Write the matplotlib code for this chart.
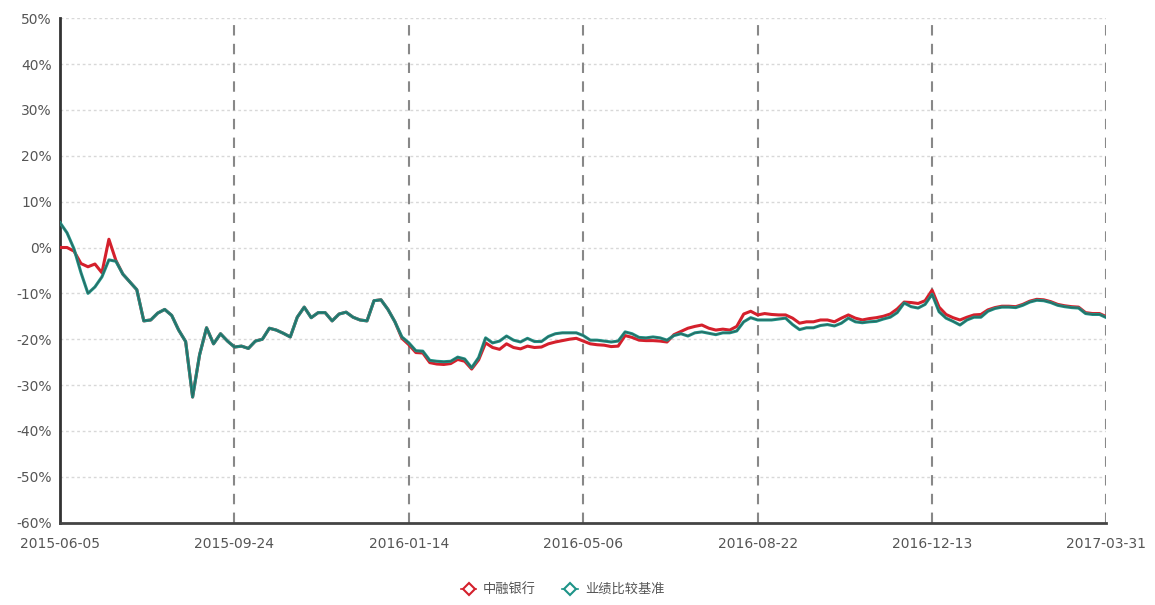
import matplotlib.pyplot as plt
from matplotlib.lines import Line2D

plt.rcParams['font.family'] = ['DejaVu Sans', 'Noto Sans CJK SC']

# 累计收益率 (%)，按交易日等间隔取样
fund = [0.0, 0.0, -0.8, -3.5, -4.2, -3.6, -5.5, 1.8, -2.8, -5.8,
        -7.5, -9.2, -16.0, -15.8, -14.3, -13.5, -14.8, -18.0, -20.5, -32.6,
        -23.4, -17.5, -21.0, -18.8, -20.4, -21.7, -21.5, -22.0, -20.4, -20.0,
        -17.6, -18.0, -18.7, -19.5, -15.2, -13.0, -15.3, -14.2, -14.2, -16.0,
        -14.5, -14.1, -15.2, -15.8, -16.0, -11.6, -11.4, -13.5, -16.2, -19.8,
        -21.2, -22.9, -23.0, -25.1, -25.4, -25.5, -25.3, -24.4, -24.8, -26.5,
        -24.5, -20.8, -21.8, -22.2, -21.0, -21.8, -22.1, -21.5, -21.8, -21.7,
        -21.0, -20.6, -20.3, -20.0, -19.8, -20.4, -21.0, -21.2, -21.3, -21.6,
        -21.5, -19.2, -19.6, -20.2, -20.3, -20.3, -20.4, -20.6, -19.0, -18.3,
        -17.6, -17.2, -16.9, -17.6, -18.0, -17.8, -18.0, -17.2, -14.5, -13.9,
        -14.7, -14.4, -14.6, -14.7, -14.7, -15.4, -16.5, -16.2, -16.2, -15.8,
        -15.8, -16.2, -15.4, -14.7, -15.4, -15.8, -15.5, -15.3, -15.0, -14.5,
        -13.4, -11.9, -12.0, -12.2, -11.6, -9.3, -13.0, -14.6, -15.3, -15.8,
        -15.2, -14.7, -14.6, -13.6, -13.1, -12.8, -12.8, -12.9, -12.4, -11.7,
        -11.3, -11.4, -11.8, -12.4, -12.7, -12.9, -13.0, -14.2, -14.4, -14.4,
        -15.1]

bench = [5.4, 3.2, -0.3, -5.5, -10.0, -8.6, -6.4, -2.7, -3.0, -5.8,
         -7.5, -9.2, -16.0, -15.8, -14.3, -13.5, -14.8, -18.0, -20.5, -32.6,
         -23.4, -17.5, -21.0, -18.8, -20.4, -21.7, -21.5, -22.0, -20.4, -20.0,
         -17.6, -18.0, -18.7, -19.5, -15.2, -13.0, -15.3, -14.2, -14.2, -16.0,
         -14.5, -14.1, -15.2, -15.8, -16.0, -11.6, -11.4, -13.5, -16.2, -19.5,
         -20.8, -22.5, -22.6, -24.6, -24.8, -24.9, -24.8, -23.9, -24.3, -26.2,
         -24.0, -19.7, -20.8, -20.4, -19.3, -20.2, -20.6, -19.8, -20.5, -20.5,
         -19.4, -18.8, -18.6, -18.6, -18.6, -19.2, -20.2, -20.2, -20.4, -20.6,
         -20.4, -18.4, -18.8, -19.6, -19.7, -19.5, -19.7, -20.2, -19.2, -18.8,
         -19.3, -18.6, -18.4, -18.7, -19.0, -18.6, -18.6, -18.2, -16.2, -15.3,
         -15.8, -15.8, -15.8, -15.6, -15.4, -16.8, -17.9, -17.5, -17.5, -17.0,
         -16.8, -17.1, -16.5, -15.4, -16.2, -16.4, -16.2, -16.1, -15.6, -15.2,
         -14.2, -12.1, -12.9, -13.2, -12.4, -10.2, -14.0, -15.4, -16.1, -16.9,
         -15.8, -15.2, -15.2, -13.9, -13.3, -13.0, -13.0, -13.1, -12.6, -11.9,
         -11.5, -11.6, -12.0, -12.6, -12.9, -13.1, -13.2, -14.4, -14.6, -14.6,
         -15.3]

tick_labels = ['2015-06-05', '2015-09-24', '2016-01-14', '2016-05-06',
               '2016-08-22', '2016-12-13', '2017-03-31']
names = ['中融银行', '业绩比较基准']

red = '#d4202c'
teal = '#1e9488'

fig = plt.figure(figsize=(11.55, 6.05), dpi=100)
ax = fig.add_axes([0.052, 0.136, 0.906, 0.834])

x = list(range(len(bench)))
ax.plot(x, fund, color=red, lw=2.2, zorder=3)
ax.plot(x, bench, color=teal, lw=2.2, zorder=4)
ax.plot(x, bench, color='#2d5f58', lw=0.9, zorder=5, alpha=0.8)

n = len(bench) - 1
ticks = [round(i * n / 6) for i in range(7)]
ax.set_xlim(0, n)
ax.set_ylim(-60, 50)
ax.set_xticks(ticks)
ax.set_xticklabels(tick_labels)
yt = list(range(-60, 51, 10))
ax.set_yticks(yt)
ax.set_yticklabels(['%d%%' % v for v in yt])

for v in yt[1:]:
    ax.axhline(v, color='#d8d8d8', lw=1, ls=(0, (2, 2)), zorder=1)
for t in ticks[1:]:
    ax.axvline(t, color='#888888', lw=1.5, ls=(0, (5, 4)), zorder=1)

for s in ['top', 'right']:
    ax.spines[s].set_visible(False)
ax.spines['left'].set_color('#333333')
ax.spines['left'].set_linewidth(2)
ax.spines['left'].set_linestyle((0, (4, 1)))
ax.spines['bottom'].set_color('#444444')
ax.spines['bottom'].set_linewidth(2)

ax.tick_params(axis='both', length=0, labelsize=10, colors='#555555', pad=6)
ax.tick_params(axis='x', pad=10)

handles = [Line2D([], [], color=red, lw=1.2, marker='D', markersize=6,
                  markerfacecolor='white', markeredgewidth=1.5),
           Line2D([], [], color=teal, lw=1.2, marker='D', markersize=6,
                  markerfacecolor='white', markeredgewidth=1.5)]
fig.legend(handles, names, loc='lower center', bbox_to_anchor=(0.487, -0.005),
           ncol=2, frameon=False, fontsize=9.5, labelcolor='#555555',
           handlelength=1.2, columnspacing=2.0, handletextpad=0.5)

fig.savefig('out.png', dpi=100)
